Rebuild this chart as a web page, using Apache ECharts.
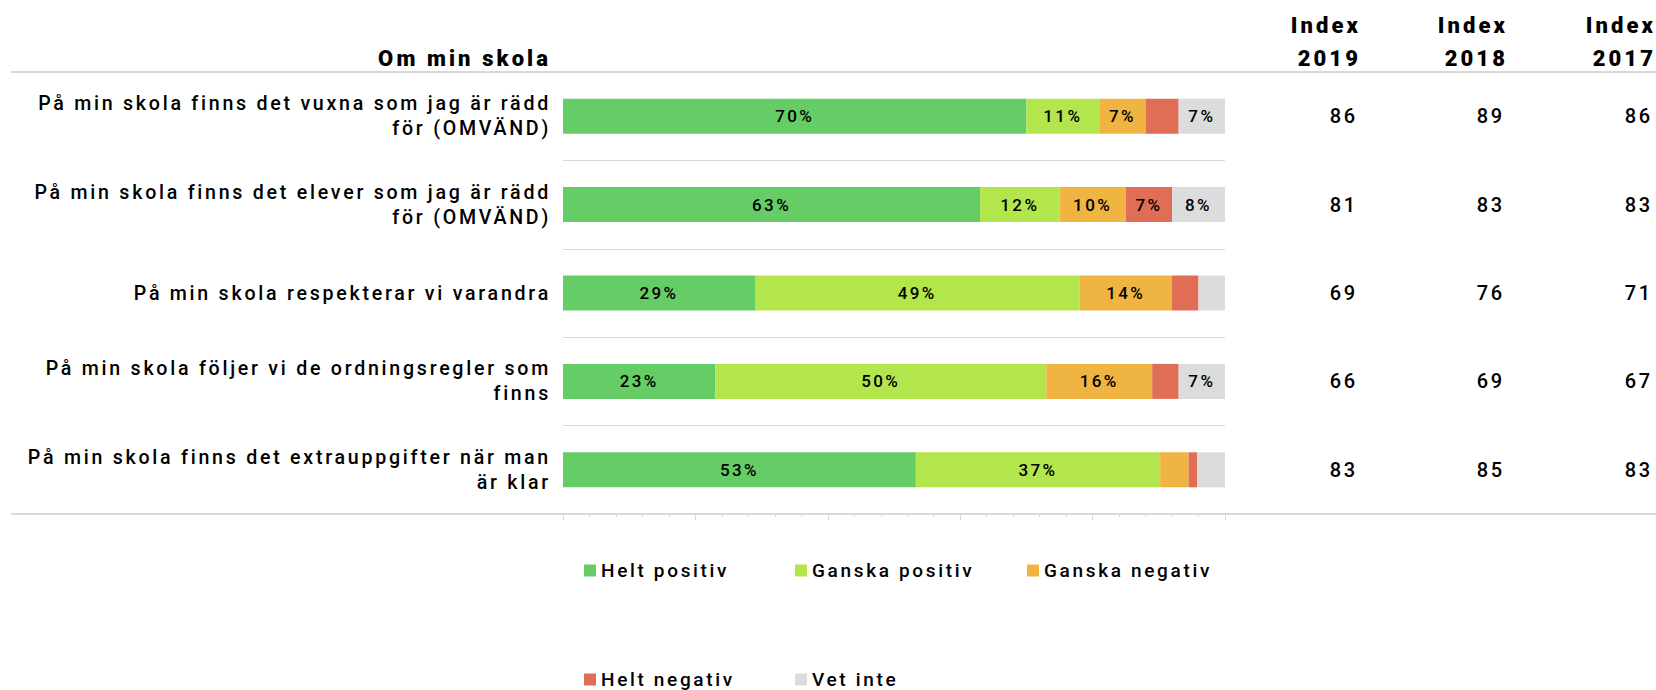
<!DOCTYPE html>
<html><head><meta charset="utf-8">
<script src="https://cdn.jsdelivr.net/npm/echarts@6/dist/echarts.min.js"></script>
<style>
html,body{margin:0;padding:0;background:#fff;}
#chart{width:1656px;height:690px;}
#chart svg text{letter-spacing:0.14em;}
</style></head><body><div id="chart"></div>
<script>
// ---- data ----
const headerTitle = 'Om min skola';
const categories = [
  'På min skola finns det vuxna som jag är rädd\nför (OMVÄND)',
  'På min skola finns det elever som jag är rädd\nför (OMVÄND)',
  'På min skola respekterar vi varandra',
  'På min skola följer vi de ordningsregler som\nfinns',
  'På min skola finns det extrauppgifter när man\när klar'
];
const seriesNames = ['Helt positiv', 'Ganska positiv', 'Ganska negativ', 'Helt negativ', 'Vet inte'];
const heltPositiv   = [70, 63, 29, 23, 53.3];
const ganskaPositiv = [11, 12, 49, 50, 36.9];
const ganskaNegativ = [7, 10, 14, 16, 4.3];
const heltNegativ   = [5, 7, 4, 4, 1.3];
const vetInte       = [7, 8, 4, 7, 4.2];
const indexYears = ['2019', '2018', '2017'];
const index2019 = [86, 81, 69, 66, 83];
const index2018 = [89, 83, 76, 69, 85];
const index2017 = [86, 83, 71, 67, 83];

// ---- styles / layout ----
const FONT = 'Roboto, "Liberation Sans", sans-serif';
const colors = ['#66CC66', '#B3E64D', '#F0B443', '#E06D56', '#DCDCDC'];
const seriesValues = [heltPositiv, ganskaPositiv, ganskaNegativ, heltNegativ, vetInte];
const indexArrays = [index2019, index2018, index2017];
const gridLeft = 563, gridRight = 1227, gridTop = 72, gridBottom = 514;
const W = 1656, H = 690;
const colRight = [1360, 1507, 1655];
const legendPos = [[584, 561], [795, 561], [1027, 561], [584, 670], [795, 670]];
const lineColor = '#D9D9D9';

const chart = echarts.init(document.getElementById('chart'), null, {renderer: 'svg'});

const yAxes = [{
  type: 'category', inverse: true, data: categories, gridIndex: 0,
  axisLine: {show: false}, axisTick: {show: false},
  axisLabel: {fontFamily: FONT, fontSize: 19.6, fontWeight: 500, color: '#000', margin: 12, lineHeight: 25, align: 'right'},
  splitLine: {show: true, lineStyle: {color: lineColor, width: 1}}
}];
indexArrays.forEach((arr, k) => {
  yAxes.push({
    type: 'category', inverse: true, data: categories, gridIndex: 0, position: 'right',
    offset: colRight[k] - gridRight,
    axisLine: {show: false}, axisTick: {show: false}, splitLine: {show: false},
    axisLabel: {fontFamily: FONT, fontSize: 20, fontWeight: 500, color: '#000', margin: 0, align: 'right',
      formatter: (v, i) => String(arr[i])}
  });
});

const HFONT = '900 22px ' + FONT;
const graphics = [
  {type: 'line', shape: {x1: 11, y1: gridTop, x2: W, y2: gridTop}, style: {stroke: lineColor, lineWidth: 2}, z: 0},
  {type: 'line', shape: {x1: 11, y1: gridBottom, x2: W, y2: gridBottom}, style: {stroke: lineColor, lineWidth: 2}, z: 0},
  {type: 'text', x: 551, y: 58, style: {text: headerTitle, font: HFONT, fill: '#000', align: 'right', verticalAlign: 'middle'}}
];
indexYears.forEach((yr, k) => {
  graphics.push({type: 'text', x: colRight[k] + 1, y: 25, style: {text: 'Index', font: HFONT, fill: '#000', align: 'right', verticalAlign: 'middle'}});
  graphics.push({type: 'text', x: colRight[k] + 1, y: 58, style: {text: yr, font: HFONT, fill: '#000', align: 'right', verticalAlign: 'middle'}});
});

const option = {
  animation: false,
  backgroundColor: '#fff',
  grid: {left: gridLeft, right: W - gridRight, top: gridTop, bottom: H - gridBottom, containLabel: false},
  xAxis: {
    type: 'value', min: 0, max: 100, interval: 20,
    axisLabel: {show: false}, splitLine: {show: false},
    axisLine: {show: true, lineStyle: {color: lineColor, width: 2}},
    axisTick: {show: true, length: 6, lineStyle: {color: lineColor}},
    minorTick: {show: true, splitNumber: 5, length: 3, lineStyle: {color: lineColor}}
  },
  yAxis: yAxes,
  legend: seriesNames.map((n, i) => ({
    data: [n], left: legendPos[i][0], top: legendPos[i][1], padding: 0,
    icon: 'rect', itemWidth: 12, itemHeight: 12,
    textStyle: {fontFamily: FONT, fontSize: 19, fontWeight: 500, color: '#000'}
  })),
  series: seriesNames.map((n, i) => ({
    name: n, type: 'bar', stack: 'total', barWidth: 35,
    data: seriesValues[i],
    itemStyle: {color: colors[i]},
    label: {show: true, position: 'inside', color: '#000', fontFamily: FONT, fontSize: 17, fontWeight: 500,
      formatter: p => p.value >= 6 ? Math.round(p.value) + '%' : ''}
  })),
  graphic: graphics
};
chart.setOption(option);
</script></body></html>
